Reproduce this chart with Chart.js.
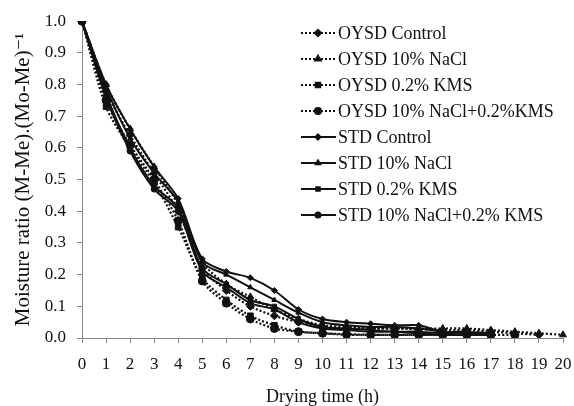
<!DOCTYPE html>
<html lang="en">
<head>
  <meta charset="UTF-8" />
  <title>Drying curves</title>
  <script src="https://cdn.jsdelivr.net/npm/chart.js"></script>
  <style>
    html, body { margin: 0; padding: 0; background: #fff; }
    #wrap { width: 574px; height: 406px; }
  </style>
</head>
<body>
  <div id="wrap"><canvas id="dryChart" width="574" height="406"></canvas></div>

  <script>
    const hours = ["0","1","2","3","4","5","6","7","8","9","10","11","12","13","14","15","16","17","18","19","20"];
    const yTicks = [0, 0.1, 0.2, 0.3, 0.4, 0.5, 0.6, 0.7, 0.8, 0.9, 1.0];

    const seriesNames = [
      "OYSD Control", "OYSD 10% NaCl", "OYSD 0.2% KMS", "OYSD 10% NaCl+0.2%KMS",
      "STD Control", "STD 10% NaCl", "STD 0.2% KMS", "STD 10% NaCl+0.2% KMS"
    ];

    const oysdControl = [1.0, 0.78, 0.64, 0.52, 0.40, 0.22, 0.15, 0.10, 0.07, 0.05, 0.035, 0.03, 0.03, 0.03, 0.028, 0.025, 0.025, 0.02, 0.015, 0.01];
    const oysdNacl    = [1.0, 0.80, 0.66, 0.54, 0.42, 0.24, 0.17, 0.13, 0.09, 0.06, 0.04, 0.035, 0.03, 0.03, 0.03, 0.03, 0.03, 0.025, 0.02, 0.015, 0.01];
    const oysdKms     = [1.0, 0.73, 0.60, 0.49, 0.35, 0.19, 0.12, 0.07, 0.04, 0.02, 0.015, 0.01, 0.01, 0.01, 0.01, 0.01, 0.01, 0.01];
    const oysdBoth    = [1.0, 0.75, 0.61, 0.50, 0.37, 0.18, 0.11, 0.06, 0.03, 0.02, 0.015, 0.012, 0.01, 0.01, 0.01, 0.01, 0.01, 0.01, 0.01];
    const stdControl  = [1.0, 0.80, 0.66, 0.54, 0.44, 0.25, 0.21, 0.19, 0.15, 0.09, 0.06, 0.05, 0.045, 0.04, 0.04, 0.02, 0.02, 0.015];
    const stdNacl     = [1.0, 0.79, 0.63, 0.52, 0.43, 0.24, 0.20, 0.16, 0.12, 0.08, 0.05, 0.04, 0.035, 0.035, 0.03, 0.02, 0.015, 0.01];
    const stdKms      = [1.0, 0.77, 0.60, 0.48, 0.41, 0.22, 0.17, 0.12, 0.10, 0.06, 0.035, 0.03, 0.025, 0.02, 0.02, 0.015, 0.01, 0.01];
    const stdBoth     = [1.0, 0.76, 0.59, 0.47, 0.40, 0.21, 0.16, 0.11, 0.09, 0.05, 0.03, 0.025, 0.02, 0.02, 0.015, 0.01, 0.01, 0.01];

    const allData = [oysdControl, oysdNacl, oysdKms, oysdBoth, stdControl, stdNacl, stdKms, stdBoth];
    const markers = ["rectRot", "triangle", "rect", "circle", "rectRot", "triangle", "rect", "circle"];

    const ink = "#111";
    const serif = "'Liberation Serif', 'DejaVu Serif', serif";

    const datasets = allData.map((d, i) => {
      const dotted = i < 4;
      return {
        label: seriesNames[i],
        data: d,
        borderColor: ink,
        backgroundColor: ink,
        borderWidth: dotted ? 2.2 : 2,
        borderDash: dotted ? [2, 2] : [],
        pointStyle: markers[i],
        pointRadius: dotted ? 4 : 3,
        pointBorderWidth: 1,
        tension: 0.3,
        fill: false
      };
    });

    // legend drawn inside the plot, top right
    const innerLegend = {
      id: "innerLegend",
      afterDraw(chart) {
        const ctx = chart.ctx;
        ctx.save();
        ctx.font = "18px " + serif;
        ctx.textBaseline = "middle";
        chart.data.datasets.forEach((ds, i) => {
          const y = 33 + i * 26;
          ctx.strokeStyle = ink;
          ctx.fillStyle = ink;
          ctx.lineWidth = ds.borderWidth;
          ctx.setLineDash(ds.borderDash);
          ctx.beginPath();
          ctx.moveTo(301, y);
          ctx.lineTo(336, y);
          ctx.stroke();
          ctx.setLineDash([]);
          Chart.helpers.drawPoint(ctx, {
            pointStyle: ds.pointStyle,
            radius: i < 4 ? 3 : 2.5,
            rotation: 0,
            borderWidth: 1
          }, 318, y);
          ctx.fillStyle = ink;
          ctx.fillText(ds.label, 338, y + 1);
        });
        ctx.restore();
      }
    };

    const ctx = document.getElementById("dryChart").getContext("2d");
    const chart = new Chart(ctx, {
      type: "line",
      data: { labels: hours, datasets: datasets },
      options: {
        responsive: false,
        animation: false,
        layout: { padding: { top: 18, right: 0, left: 0, bottom: 0 } },
        plugins: {
          legend: { display: false },
          tooltip: { enabled: false }
        },
        scales: {
          x: {
            offset: false,
            grid: { drawOnChartArea: false, color: "#888", tickLength: 5 },
            border: { color: "#888" },
            ticks: { color: ink, font: { family: serif, size: 17 }, maxRotation: 0, autoSkip: false, padding: 11 },
            title: { display: true, text: "Drying time (h)", color: ink, font: { family: serif, size: 18, lineHeight: 1 }, padding: 0 },
            afterFit: s => { s.height = 68; s.paddingRight = 11; s.paddingLeft = 0; }
          },
          y: {
            min: 0,
            max: 1,
            afterBuildTicks: s => { s.ticks = yTicks.map(v => ({ value: v })); },
            grid: { drawOnChartArea: false, color: "#888", tickLength: 5 },
            border: { color: "#888" },
            ticks: { color: ink, font: { family: serif, size: 17 }, padding: 11, callback: v => Number(v).toFixed(1) },
            title: { display: true, text: "Moisture ratio (M-Me).(Mo-Me)⁻¹", color: ink, font: { family: serif, size: 21, lineHeight: 1.2 }, padding: { top: 11, bottom: 0 } },
            afterFit: s => { s.width = 82; }
          }
        }
      },
      plugins: [innerLegend]
    });
  </script>
</body>
</html>
